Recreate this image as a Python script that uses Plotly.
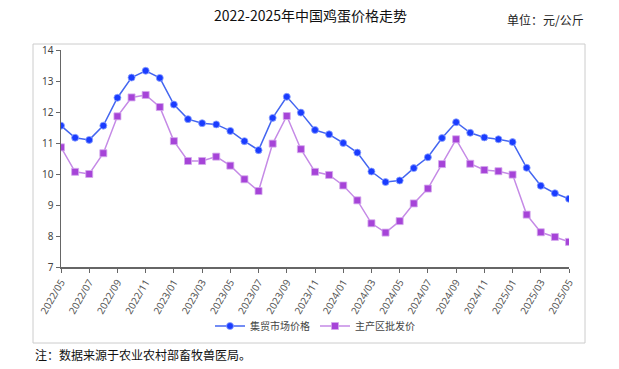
import plotly.graph_objects as go

months = ["2022/05","2022/06","2022/07","2022/08","2022/09","2022/10","2022/11","2022/12",
          "2023/01","2023/02","2023/03","2023/04","2023/05","2023/06","2023/07","2023/08",
          "2023/09","2023/10","2023/11","2023/12","2024/01","2024/02","2024/03","2024/04",
          "2024/05","2024/06","2024/07","2024/08","2024/09","2024/10","2024/11","2024/12",
          "2025/01","2025/02","2025/03","2025/04","2025/05"]

market_price = [11.56, 11.17, 11.10, 11.56, 12.46, 13.11, 13.33, 13.10,
                12.24, 11.77, 11.64, 11.60, 11.39, 11.06, 10.77, 11.81,
                12.49, 11.98, 11.42, 11.28, 11.00, 10.69, 10.08, 9.74,
                9.79, 10.19, 10.54, 11.16, 11.67, 11.33, 11.18, 11.12,
                11.03, 10.20, 9.62, 9.38, 9.20]

wholesale_price = [10.86, 10.07, 10.00, 10.67, 11.86, 12.47, 12.55, 12.16,
                   11.06, 10.42, 10.42, 10.56, 10.27, 9.83, 9.45, 10.98,
                   11.87, 10.80, 10.07, 9.97, 9.63, 9.15, 8.41, 8.11,
                   8.48, 9.05, 9.53, 10.32, 11.12, 10.33, 10.13, 10.09,
                   9.98, 8.69, 8.12, 7.97, 7.81]

tick_labels = months[::2]
series_names = ["集贸市场价格", "主产区批发价"]

W, H = 619, 369
L, R, T, B = 61, 50, 50, 102

fig = go.Figure()
fig.add_trace(go.Scatter(
    x=months, y=market_price, name=series_names[0], mode="lines+markers",
    line=dict(color="#4466f0", width=1.5),
    marker=dict(symbol="circle", size=7, color="#1a3cff", line=dict(color="#8fa4ff", width=0.8)),
))
fig.add_trace(go.Scatter(
    x=months, y=wholesale_price, name=series_names[1], mode="lines+markers",
    line=dict(color="#c58ae6", width=1.5),
    marker=dict(symbol="square", size=7, color="#a644d8", line=dict(color="#d4a8ee", width=0.8)),
))

pw = W - L - R
ph = H - T - B
def px(x):
    return (x - L) / pw
def py(y):
    return (H - B - y) / ph

font_cjk = "Noto Sans CJK SC, Noto Sans, sans-serif"

fig.update_layout(
    width=W, height=H,
    margin=dict(l=L, r=R, t=T, b=B, autoexpand=False),
    paper_bgcolor="white", plot_bgcolor="white",
    showlegend=True,
    hovermode=False,
    legend=dict(orientation="h", x=px(315), xanchor="center", y=py(326), yanchor="middle",
                font=dict(family=font_cjk, size=10, color="#444"),
                itemwidth=30, bgcolor="rgba(0,0,0,0)"),
    xaxis=dict(
        type="category", range=[0, 36],
        tickmode="array", tickvals=tick_labels, ticktext=tick_labels,
        tickangle=-60, tickfont=dict(family="Noto Sans, sans-serif", size=10, color="#555"),
        showline=True, linecolor="#666", linewidth=1.5,
        ticks="outside", ticklen=4, tickcolor="#666",
        showgrid=False, zeroline=False,
    ),
    yaxis=dict(
        range=[7, 14], dtick=1,
        tickfont=dict(family="Noto Sans, sans-serif", size=10, color="#444"),
        showline=True, linecolor="#666", linewidth=1.5,
        ticks="outside", ticklen=4, tickcolor="#666",
        showgrid=False, zeroline=False,
    ),
    shapes=[dict(type="rect", xref="paper", yref="paper",
                 x0=px(33), x1=px(585), y0=py(343), y1=py(44),
                 line=dict(color="#cccccc", width=1), layer="below")],
    annotations=[
        dict(text="2022-2025年中国鸡蛋价格走势", xref="paper", yref="paper",
             x=px(310), y=py(15), xanchor="center", yanchor="middle", showarrow=False,
             font=dict(family=font_cjk, size=14, color="#111")),
        dict(text="单位：元/公斤", xref="paper", yref="paper",
             x=px(586), y=py(20), xanchor="right", yanchor="middle", showarrow=False,
             font=dict(family=font_cjk, size=12, color="#222")),
        dict(text="注：数据来源于农业农村部畜牧兽医局。", xref="paper", yref="paper",
             x=px(33), y=py(354), xanchor="left", yanchor="middle", showarrow=False,
             font=dict(family=font_cjk, size=12, color="#111")),
    ],
)

fig.write_html("out.html",
               config={"displayModeBar": False, "staticPlot": True},
               post_script="document.body.style.margin='0';document.body.style.overflow='hidden';")
